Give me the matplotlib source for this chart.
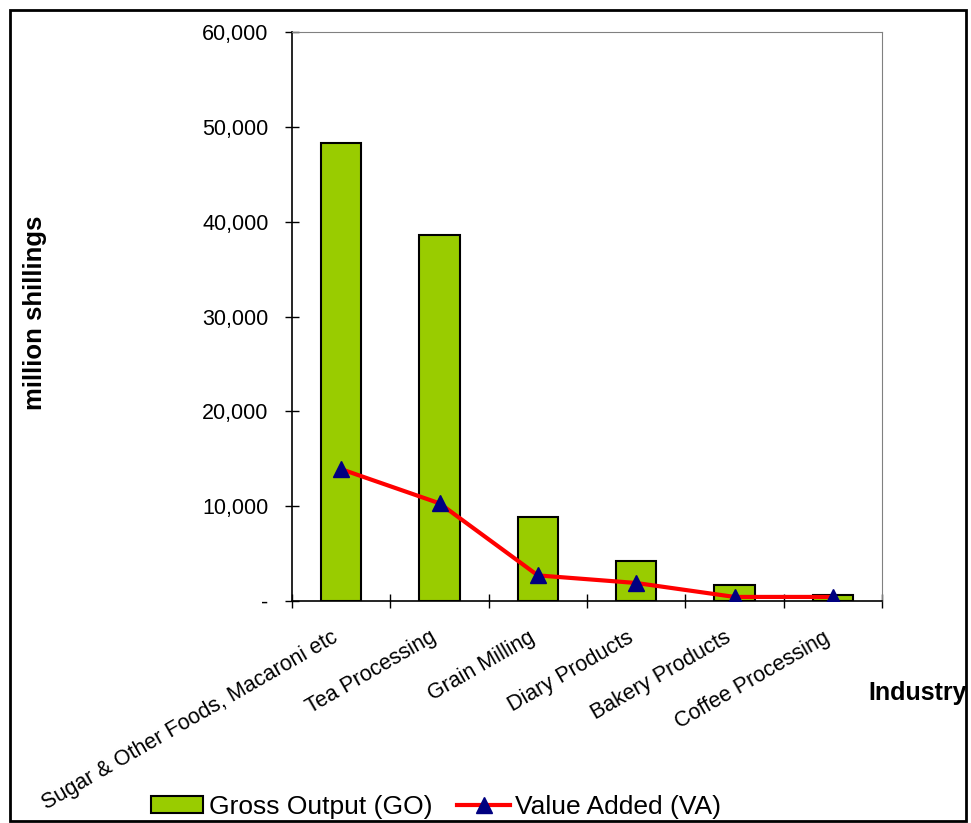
import matplotlib
matplotlib.use("Agg")
import matplotlib.pyplot as plt
from matplotlib.patches import Rectangle
from matplotlib.ticker import FuncFormatter, FixedLocator
from matplotlib.transforms import ScaledTranslation
import numpy as np

plt.rcParams['font.family'] = ['Liberation Sans', 'DejaVu Sans']

categories = ["Sugar & Other Foods, Macaroni etc", "Tea Processing", "Grain Milling",
              "Diary Products", "Bakery Products", "Coffee Processing"]
gross_output = [48300, 38600, 8900, 4200, 1700, 630]
value_added = [13900, 10300, 2700, 1900, 430, 430]
y_ticks = [0, 10000, 20000, 30000, 40000, 50000, 60000]

fig = plt.figure(figsize=(9.71, 8.23), dpi=100)
ax = fig.add_axes([292/971, 1-601/823, (882-292)/971, (601-32)/823])

x = np.arange(len(categories))
bars = ax.bar(x, gross_output, width=0.41, color='#99CC00', edgecolor='black', linewidth=1.5,
              label='Gross Output (GO)', zorder=2)
line, = ax.plot(x, value_added, color='#FF0000', linewidth=3, marker='^', markersize=12,
                markerfacecolor='#000080', markeredgecolor='#000080', label='Value Added (VA)',
                zorder=3)

ax.set_xlim(-0.5, len(categories) - 0.5)
ax.set_ylim(0, 60000)
ax.yaxis.set_major_locator(FixedLocator(y_ticks))
ax.yaxis.set_major_formatter(FuncFormatter(lambda v, p: '-' if v == 0 else f"{v:,.0f}"))
ax.tick_params(axis='y', direction='inout', length=10, width=1, labelsize=15.5, pad=12)

ax.set_xticks(np.arange(-0.5, len(categories) + 0.5, 1.0))
ax.set_xticklabels([])
ax.tick_params(axis='x', which='major', direction='inout', length=10, width=1)
ax.set_xticks(x, minor=True)
ax.set_xticklabels(categories, minor=True, rotation=30, ha='right', rotation_mode='anchor',
                   fontsize=15.5)
ax.tick_params(axis='x', which='minor', length=0, pad=10)
offset = ScaledTranslation(-10/100, -12/100, fig.dpi_scale_trans)
for lbl in ax.get_xticklabels(minor=True):
    lbl.set_transform(lbl.get_transform() + offset)

for s in ['top', 'right']:
    ax.spines[s].set_color('#808080')
for s in ['left', 'bottom']:
    ax.spines[s].set_color('black')
    ax.spines[s].set_linewidth(1.2)

fig.text(35/971, 1-313/823, 'million shillings', rotation=90, fontsize=18.5, fontweight='bold',
         ha='center', va='center')
fig.text(918/971, 1-693/823, 'Industry', fontsize=18, fontweight='bold', ha='center', va='center')

fig.legend([bars, line], ['Gross Output (GO)', 'Value Added (VA)'], loc='center',
           bbox_to_anchor=(436/971, 1-807/823), ncol=2, frameon=False,
           fontsize=19, handlelength=2.0, handleheight=0.6, handletextpad=0.2,
           columnspacing=0.95, borderpad=0)

fig.patches.append(Rectangle((10/971, 1-821/823), (966-10)/971, (821-10)/823,
                             transform=fig.transFigure, fill=False, edgecolor='black',
                             linewidth=2, zorder=10))

fig.savefig('out.png', dpi=100)
